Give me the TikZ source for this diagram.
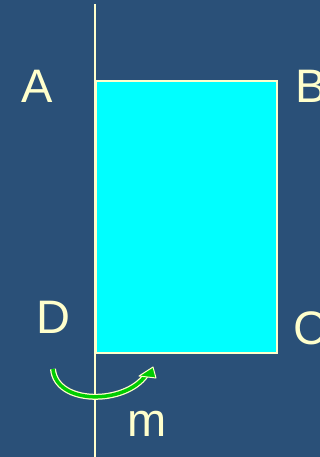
\documentclass[tikz,border=0pt]{standalone}
\usepackage{fontspec}
\setmainfont{Liberation Sans}
\definecolor{bg}{HTML}{2A5078}
\definecolor{cream}{HTML}{FFFFCC}
\definecolor{aqua}{HTML}{00FFFF}
\definecolor{arrgreen}{HTML}{00CC00}
\begin{document}
\begin{tikzpicture}[x=1pt,y=1pt,
  lbl/.style={text=cream,font=\fontsize{47}{50}\selectfont,inner sep=0pt}]
\clip (0,0) rectangle (320,-457);
\fill[bg] (0,0) rectangle (320,-457);
% axis line
\coordinate (top) at (95,-4);
\coordinate (bot) at (95,-457);
\draw[cream,line width=2pt] (top) -- (bot);
% rectangle
\node[draw=cream,fill=aqua,line width=2pt,minimum width=181pt,minimum height=272pt,inner sep=0pt,anchor=north west] (rect) at (95,-80) {};
% labels
\node[lbl,anchor=base] (A) at (37,-103) {A};
\node[lbl,anchor=base west] (B) at (295,-103) {B};
\node[lbl,anchor=base] (D) at (53,-333) {D};
\node[lbl,anchor=base west] (C) at (293,-344) {C};
\node[lbl,anchor=base] (m) at (147,-436) {m};
% curved arrow
\coordinate (s) at (53,-369);
\coordinate (e) at (146,-375);
\draw[cream,line width=6pt] (s) .. controls (56,-405) and (125,-405) .. (e);
\draw[arrgreen,line width=3.5pt] (s) .. controls (56,-405) and (125,-405) .. (e);
\filldraw[fill=arrgreen,draw=cream,line width=1pt,line join=round] (139,-376) -- (153,-367) -- (156,-378) -- cycle;
\end{tikzpicture}
\end{document}
